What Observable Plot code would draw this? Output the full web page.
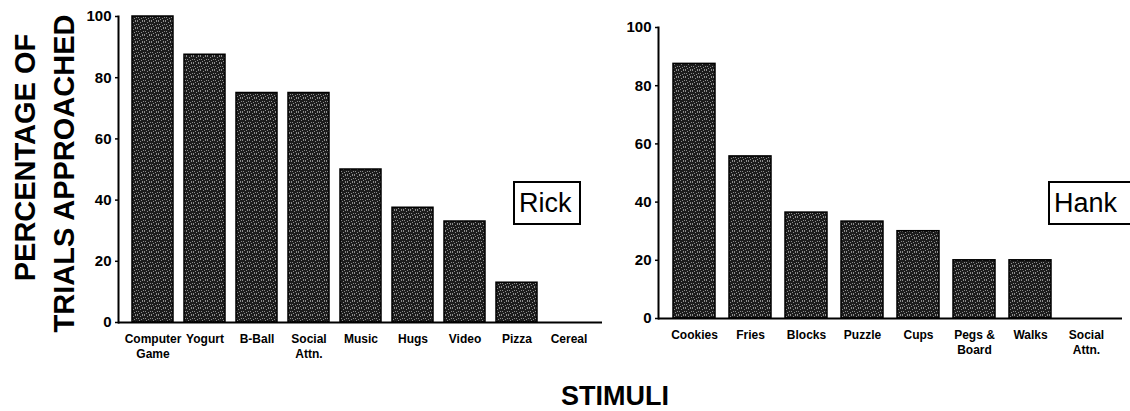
<!DOCTYPE html>
<html>
<head>
<meta charset="utf-8">
<script src="https://cdn.jsdelivr.net/npm/d3@7"></script>
<script src="https://cdn.jsdelivr.net/npm/@observablehq/plot@0.6"></script>
<style>
  html, body { margin: 0; padding: 0; background: #fff; }
  #root { position: relative; width: 1130px; height: 411px; overflow: hidden; font-family: "Liberation Sans", Arial, sans-serif; color: #000; }
  .panel { position: absolute; top: 0; }
  .namebox { position: absolute; border: 2px solid #000; font-size: 27px; line-height: 40px; padding: 0 4px; box-sizing: border-box; height: 44px; background: #fff; }
  #titles { position: absolute; left: 0; top: 0; pointer-events: none; }
</style>
</head>
<body>
<div id="root">
  <div id="left" class="panel" style="left:60px"></div>
  <div id="right" class="panel" style="left:615px"></div>
  <div class="namebox" style="left:513px; top:181px; width:68px;">Rick</div>
  <div class="namebox" style="left:1048px; top:181px; width:84px;">Hank</div>
  <svg id="titles" width="1130" height="411" font-family="Liberation Sans, Arial, sans-serif" font-weight="bold">
    <text id="yt1" transform="translate(35,157.5) rotate(-90)" text-anchor="middle" font-size="29">PERCENTAGE OF</text>
    <text id="yt2" transform="translate(74,173.5) rotate(-90)" text-anchor="middle" font-size="29">TRIALS APPROACHED</text>
    <text id="xt" x="615" y="405" text-anchor="middle" font-size="27">STIMULI</text>
  </svg>
</div>
<script>
// ---- data ----
const rickLabels = ["Computer\nGame", "Yogurt", "B-Ball", "Social\nAttn.", "Music", "Hugs", "Video", "Pizza", "Cereal"];
const rickValues = [100, 87.5, 75, 75, 50, 37.5, 33, 13, 0];
const hankLabels = ["Cookies", "Fries", "Blocks", "Puzzle", "Cups", "Pegs &\nBoard", "Walks", "Social\nAttn."];
const hankValues = [87.5, 55.7, 36.4, 33.3, 30, 20, 20, 0];
const yTicks = [0, 20, 40, 60, 80, 100];

const rick = rickLabels.map((label, i) => ({label, value: rickValues[i]}));
const hank = hankLabels.map((label, i) => ({label, value: hankValues[i]}));

function addPattern(svg, id) {
  const defs = d3.select(svg).insert("defs", ":first-child");
  const p = defs.append("pattern").attr("id", id).attr("patternUnits", "userSpaceOnUse")
    .attr("width", 7).attr("height", 7);
  p.append("rect").attr("width", 7).attr("height", 7).attr("fill", "#1c1c1c");
  [[0,0],[3,1],[5,0],[1,3],[4,4],[6,3],[2,5],[5,6],[0,6]].forEach(([x,y]) =>
    p.append("rect").attr("x", x).attr("y", y).attr("width", 1).attr("height", 1).attr("fill", "#8c8c8c"));
}

function panel(data, labels, pid, opts) {
  const svg = Plot.plot({
    width: opts.width, height: 360,
    marginLeft: opts.ml, marginRight: opts.mr, marginTop: opts.mt, marginBottom: opts.mb,
    style: {fontFamily: "Liberation Sans, Arial, sans-serif", color: "#000", background: "transparent", overflow: "visible"},
    x: {domain: labels, padding: opts.pad, label: null},
    y: {domain: [0, 100], label: null},
    marks: [
      Plot.barY(data, {x: "label", y: "value", fill: `url(#${pid})`, stroke: "#000", strokeWidth: 1.5}),
      Plot.ruleY([0], {strokeWidth: 2}),
      Plot.frame({anchor: "left", strokeWidth: 2}),
      Plot.axisY({ticks: yTicks, tickSize: 3, tickPadding: 4, fontSize: 15, fontWeight: "bold", strokeWidth: 1.5, label: null}),
      Plot.axisX({tickSize: 0, tickPadding: 9, fontSize: 12, fontWeight: "bold", lineHeight: 1.3, label: null})
    ]
  });
  addPattern(svg, pid);
  return svg;
}

document.getElementById("left").append(panel(rick, rickLabels, "stipL", {width: 550, ml: 58, mr: 8, mt: 16, mb: 38, pad: 0.22}));
document.getElementById("right").append(panel(hank, hankLabels, "stipR", {width: 515, ml: 43, mr: 8, mt: 27, mb: 42, pad: 0.25}));
</script>
</body>
</html>
